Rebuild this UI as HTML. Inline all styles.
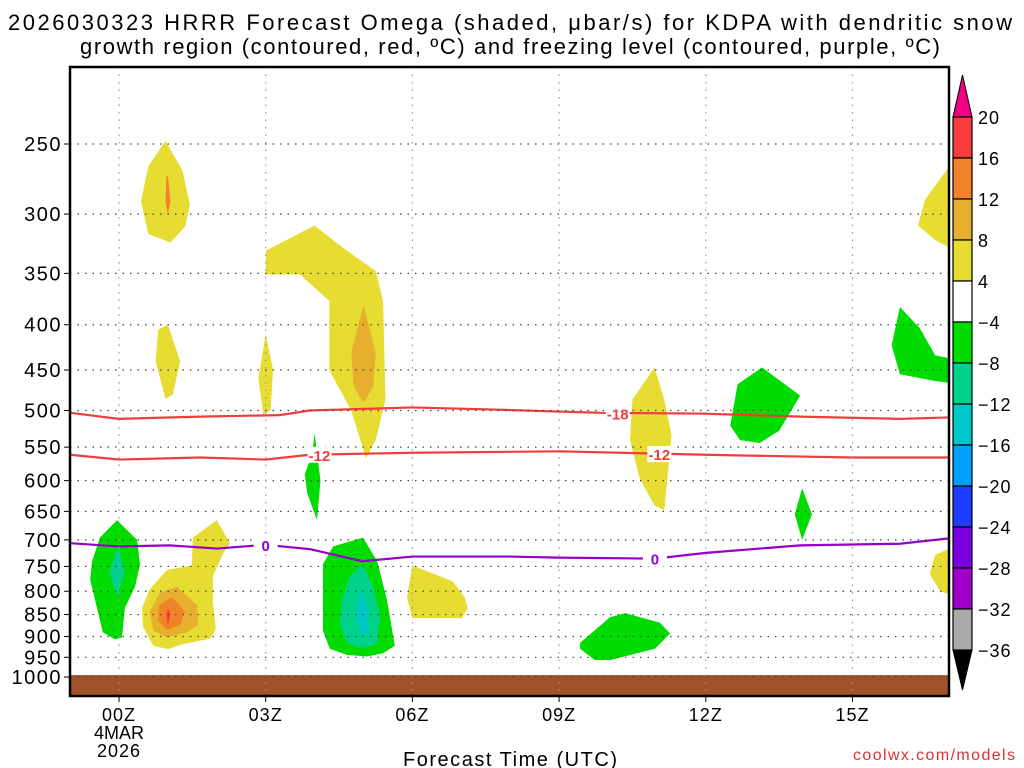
<!DOCTYPE html>
<html><head><meta charset="utf-8"><style>
html,body{margin:0;padding:0;background:#fff;}
svg{display:block;font-family:"Liberation Sans",sans-serif;}
</style></head><body>
<svg id="chart" width="1024" height="768" viewBox="0 0 1024 768" xmlns="http://www.w3.org/2000/svg">
<text x="8" y="30" textLength="1004" lengthAdjust="spacing" font-size="22" fill="#000">2026030323 HRRR Forecast Omega (shaded, μbar/s) for KDPA with dendritic snow</text>
<text x="80" y="54" textLength="860" lengthAdjust="spacing" font-size="22" fill="#000">growth region (contoured, red, ºC) and freezing level (contoured, purple, ºC)</text>
<g id="plot"></g>
<text x="403" y="766" textLength="214" lengthAdjust="spacing" font-size="20" fill="#000">Forecast Time (UTC)</text>
<text x="853" y="760" textLength="162" lengthAdjust="spacing" font-size="16" fill="#e03030">coolwx.com/models</text>
</svg>
<script>
const pressureTicks=[250,300,350,400,450,500,550,600,650,700,750,800,850,900,950,1000];
const hourTicks=[0,3,6,9,12,15];
const hourLabels=["00Z","03Z","06Z","09Z","12Z","15Z"];
const colorLevels=[20,16,12,8,4,-4,-8,-12,-16,-20,-24,-28,-32,-36];
const colorFills=["#fa3c3c","#f08228","#e6af2d","#e6dc32","#ffffff","#00dc00","#00d28c","#00c8c8","#00a0ff","#1e3cff","#7800dc","#a000c8","#aaaaaa"];
const shadeYellow=[
 [[0.95,248],[1.3,268],[1.45,293],[1.35,310],[1.05,323],[0.6,316],[0.45,290],[0.6,265]],
 [[3.0,330],[4.0,309],[4.5,325],[5.25,348],[5.4,376],[5.45,486],[5.25,540],[5.05,566],[4.75,500],[4.3,450],[4.3,376],[3.7,351],[3.0,351]],
 [[1.0,400],[1.25,440],[1.1,480],[0.95,485],[0.75,440],[0.8,405]],
 [[3.0,410],[3.15,450],[3.1,500],[2.95,505],[2.85,460]],
 [[10.95,447],[11.15,486],[11.3,533],[11.15,648],[10.95,640],[10.65,597],[10.45,540],[10.5,486]],
 [[17.2,255],[16.48,289],[16.34,309],[16.69,321],[17.2,332]],
 [[17.2,707],[16.69,728],[16.58,765],[16.79,800],[17.2,815]],
 [[2.0,665],[2.27,707],[2.13,725],[1.92,769],[1.92,822],[1.98,883],[1.86,905],[1.31,918],[1.0,930],[0.7,922],[0.49,877],[0.47,836],[0.63,796],[0.98,757],[1.49,748],[1.51,696]],
 [[6.0,748],[6.83,780],[7.07,813],[7.13,836],[7.01,858],[6.0,858],[5.89,813]]
];
const shadeGold=[
 [[1.19,791],[1.6,830],[1.62,873],[1.39,890],[0.98,902],[0.7,886],[0.63,843],[0.84,803]],
 [[5.0,380],[5.25,430],[5.2,470],[5.0,490],[4.8,470],[4.75,430]]
];
const shadeOrange=[
 [[1.08,813],[1.35,843],[1.25,873],[0.98,886],[0.8,863],[0.82,830]],
 [[1.0,272],[1.05,290],[1.0,300],[0.95,290],[0.97,272]]
];
const shadeRed=[[[1.0,835],[1.05,850],[1.0,875],[0.97,850]]];
const shadeGreen=[
 [[4.0,530],[4.12,600],[4.05,665],[3.85,620],[3.8,590],[3.95,560]],
 [[13.15,447],[13.93,481],[13.5,527],[13.1,544],[12.7,540],[12.5,520],[12.65,467]],
 [[15.97,382],[16.38,404],[16.69,433],[17.2,439],[17.2,467],[16.69,463],[15.97,455],[15.8,422]],
 [[13.97,612],[14.17,655],[13.97,700],[13.82,655]],
 [[-0.04,665],[0.37,700],[0.43,746],[0.33,790],[0.12,836],[0.06,902],[-0.08,907],[-0.33,890],[-0.45,836],[-0.59,776],[-0.55,740],[-0.39,696]],
 [[4.99,696],[5.28,740],[5.48,818],[5.64,922],[5.4,940],[5.07,948],[4.66,944],[4.31,929],[4.17,886],[4.17,746],[4.38,712]],
 [[9.43,915],[10.04,856],[10.35,847],[11.06,868],[11.27,893],[10.96,929],[10.04,957],[9.73,957],[9.43,929]]
];
const shadeTeal=[
 [[-0.02,712],[0.12,761],[-0.04,811],[-0.2,761]],
 [[4.99,746],[5.19,790],[5.34,852],[5.28,915],[4.99,928],[4.66,915],[4.52,873],[4.56,818],[4.72,769]]
];
const shadeCyan=[[[4.97,796],[5.09,843],[5.07,895],[4.93,895],[4.85,843]]];
const lineHours=[-1,0,1.66,3.29,3.9,6,7.79,9.84,11.88,13.93,15.97,17];
const dgzWarm=[503,511,508,506,500,496,499,503,504,508,511,509];
const dgzColdHours=[-1,0,1.66,3,3.9,6,9,12,15,17];
const dgzCold=[561,568,565,568,561,558,556,561,565,565];
const frzHours=[-1,0,1.04,2.0,3.0,3.9,4.97,6,8,9,10.96,12,13.93,15.97,17];
const frzLevel=[706,712,710,716,709,717,740,731,731,733,735,724,710,707,697];

const NS="http://www.w3.org/2000/svg";
const L=70,R=949,T=67,B=696;
const xS=h=>119+h*48.9;
const yS=p=>144+384.5*Math.log(p/250);
const plot=document.getElementById('plot');
const svg=document.getElementById('chart');
function mk(tag,attrs,parent){const e=document.createElementNS(NS,tag);for(const k in attrs)e.setAttribute(k,attrs[k]);(parent||plot).appendChild(e);return e;}
const clip=mk('clipPath',{id:'cp'});mk('rect',{x:L,y:T,width:R-L,height:B-T},clip);
const g=mk('g',{'clip-path':'url(#cp)'});


function drawSet(set,fill,name){set.forEach(poly=>{const e=mk('polygon',{points:poly.map(q=>xS(q[0])+','+yS(q[1])).join(' '),fill:fill},g);

});}
drawSet(shadeYellow,'#e6dc32','omega-4-8');
drawSet(shadeGold,'#e6af2d','omega-8-12');
drawSet(shadeOrange,'#f08228','omega-12-16');
drawSet(shadeRed,'#fa3c3c','omega-16-20');
drawSet(shadeGreen,'#00dc00','omega-neg4-8');
drawSet(shadeTeal,'#00d28c','omega-neg8-12');
drawSet(shadeCyan,'#00c8c8','omega-neg12-16');
const ground=mk('rect',{x:L,y:yS(995),width:R-L,height:B-yS(995),fill:'#a0522d'},g);


pressureTicks.forEach((p,i)=>{const y=yS(p);
 const gl=mk('line',{x1:L,x2:R,y1:y,y2:y,stroke:'#444','stroke-width':1.2,'stroke-dasharray':'1.5,6'});
 
 
 mk('line',{x1:L-6,x2:L,y1:y,y2:y,stroke:'#000','stroke-width':1});
 const t=mk('text',{x:L-8,y:y+7,'text-anchor':'end','font-size':20,'letter-spacing':1.5,fill:'#000'});t.textContent=p;
 
 
});
hourTicks.forEach((h,i)=>{const x=xS(h);
 const gl=mk('line',{x1:x,x2:x,y1:T,y2:B,stroke:'#999','stroke-width':1.2,'stroke-dasharray':'1.5,6'});
 
 
 mk('line',{x1:x,x2:x,y1:B,y2:B+6,stroke:'#000'});
 const t=mk('text',{x:x,y:721,'text-anchor':'middle','font-size':18,'letter-spacing':1,fill:'#000'});t.textContent=hourLabels[i];
 
 
});
const d1=mk('text',{x:xS(0),y:739,'text-anchor':'middle','font-size':18});d1.textContent='4MAR';


const d2=mk('text',{x:xS(0),y:757,'text-anchor':'middle','font-size':18,'letter-spacing':1});d2.textContent='2026';


function line(hs,ps,color,name){const e=mk('polyline',{points:hs.map((h,i)=>xS(h)+','+yS(ps[i])).join(' '),fill:'none',stroke:color,'stroke-width':2.2},g);

}
line(lineHours,dgzWarm,'#f03c3c','contour-minus18');
line(dgzColdHours,dgzCold,'#f03c3c','contour-minus12');
line(frzHours,frzLevel,'#9600c8','freezing-level-0');
function lab(h,p,txt,color){const x=xS(h),y=yS(p);mk('rect',{x:x-12,y:y-8,width:24,height:16,fill:'#fff'});
const t=mk('text',{x:x,y:y+6,'text-anchor':'middle','font-size':15,'font-weight':'bold',fill:color});t.textContent=txt;

}
lab(10.2,504,'-18','#f03c3c');lab(4.1,561,'-12','#f03c3c');lab(11.05,560,'-12','#f03c3c');
lab(3.0,709,'0','#9600c8');lab(10.96,735,'0','#9600c8');
const fr=mk('rect',{x:L,y:T,width:R-L,height:B-T,fill:'none',stroke:'#000','stroke-width':2.5});


const cbX=953,cbW=19,cbTop=117,cbStep=41;
const cb=mk('g',{},svg);


mk('polygon',{points:`${cbX},${cbTop} ${cbX+cbW/2},75 ${cbX+cbW},${cbTop}`,fill:'#f00082',stroke:'#000'},cb);
colorFills.forEach((c,i)=>{const r=mk('rect',{x:cbX,y:cbTop+i*cbStep,width:cbW,height:cbStep,fill:c,stroke:'#000','stroke-width':1.2},cb);

});
const bot=cbTop+colorFills.length*cbStep;
mk('polygon',{points:`${cbX},${bot} ${cbX+cbW/2},690 ${cbX+cbW},${bot}`,fill:'#000',stroke:'#000'},cb);
colorLevels.forEach((v,i)=>{const t=mk('text',{x:978,y:cbTop+i*cbStep+7,'font-size':18,'letter-spacing':1,fill:'#000'},cb);t.textContent=v<0?'−'+(-v):v;

});
</script>
</body></html>
